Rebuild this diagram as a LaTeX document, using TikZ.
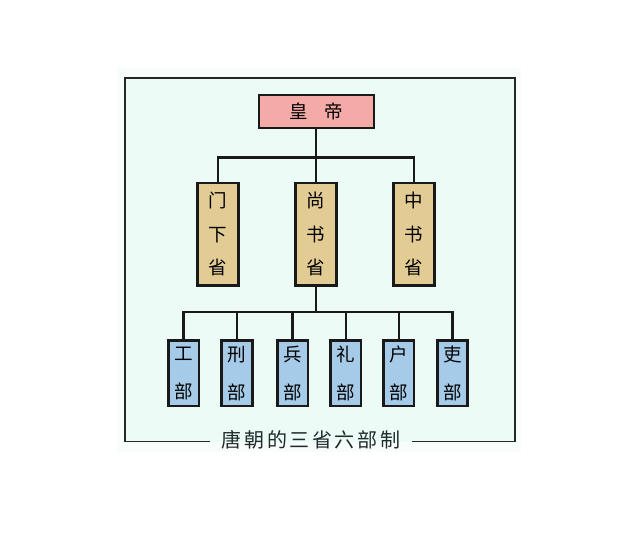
\documentclass[tikz,border=0pt]{standalone}
\usepackage{fontspec}
\newfontfamily\cjk{Noto Sans CJK SC}
\definecolor{mintbg}{HTML}{ECFBF5}
\definecolor{halo}{HTML}{F7FDFA}
\definecolor{emp}{HTML}{F4AAA6}
\definecolor{prov}{HTML}{E2CC94}
\definecolor{mini}{HTML}{A6CBE8}
\definecolor{titlec}{HTML}{1F2B2B}
\begin{document}
\begin{tikzpicture}[x=1pt,y=-1pt,
  boxstyle/.style={draw=black!90,line width=2.6pt,inner sep=0pt,font=\cjk},
  empbox/.style={boxstyle,fill=emp,minimum width=115pt,minimum height=33pt,font=\cjk\fontsize{18.5}{20}\selectfont},
  provbox/.style={boxstyle,fill=prov,minimum width=41pt,minimum height=102.5pt,align=center,font=\cjk\fontsize{18.5}{33.5}\selectfont},
  minibox/.style={boxstyle,fill=mini,minimum width=30.5pt,minimum height=65.5pt,align=center,font=\cjk\fontsize{18.5}{38}\selectfont},
  conn/.style={draw=black!90,line width=2.6pt,line cap=rect,line join=miter},
  frameline/.style={draw=black!85,line width=1.2pt}]
\useasboundingbox (0,0) rectangle (624,533);
\fill[white] (0,0) rectangle (624,533);
\fill[halo] (117,68) rectangle (521,452);
\fill[mintbg] (125,78) rectangle (515,441.7);
% frame
\coordinate (fl) at (210,441.7);
\coordinate (fbl) at (125,441.7);
\coordinate (ftl) at (125,78);
\coordinate (ftr) at (515,78);
\coordinate (fbr) at (515,441.7);
\coordinate (fr) at (411.7,441.7);
\draw[frameline] (fl) -- (fbl) -- (ftl) -- (ftr) -- (fbr) -- (fr);
\node[font=\cjk\fontsize{20}{22}\selectfont,text=titlec,inner sep=0pt] (title) at (311,440)
  {唐\hspace{2.6pt}朝\hspace{2.6pt}的\hspace{2.6pt}三\hspace{2.6pt}省\hspace{2.6pt}六\hspace{2.6pt}部\hspace{2.6pt}制};
% nodes
\node[empbox] (emp) at (316.5,111.5) {皇\hspace{16.5pt}帝};
\node[provbox] (men) at (218,234.4) {门\\下\\省};
\node[provbox] (shang) at (316,234.4) {尚\\书\\省};
\node[provbox] (zhong) at (414,234.4) {中\\书\\省};
\node[minibox] (gong) at (183.7,373.3) {工\\部};
\node[minibox] (xing) at (237,373.3) {刑\\部};
\node[minibox] (bing) at (292.7,373.3) {兵\\部};
\node[minibox] (li) at (345.8,373.3) {礼\\部};
\node[minibox] (hu) at (398.8,373.3) {户\\部};
\node[minibox] (lib) at (452.5,373.3) {吏\\部};
% connectors
\coordinate (j1) at (316,157.7);
\coordinate (j2) at (316,312);
\draw[conn] (emp.south -| j1) -- (j1);
\draw[conn] (men.north) -- (men.north |- j1) -- (zhong.north |- j1) -- (zhong.north);
\draw[conn] (shang.north) -- (shang.north |- j1);
\draw[conn] (shang.south) -- (j2);
\draw[conn] (gong.north) -- (gong.north |- j2) -- (lib.north |- j2) -- (lib.north);
\foreach \n in {xing,bing,li,hu} \draw[conn] (\n.north) -- (\n.north |- j2);
\end{tikzpicture}
\end{document}
